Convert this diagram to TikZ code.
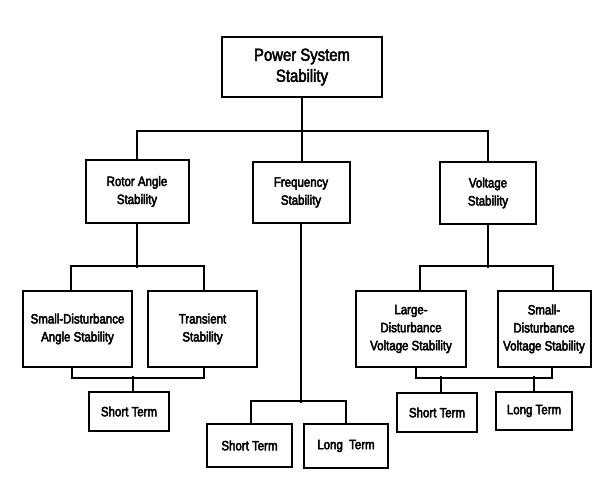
\documentclass[tikz,border=0pt]{standalone}
\usepackage{fontspec}
\setmainfont{Liberation Sans}[FakeStretch=0.85]
\usetikzlibrary{positioning}
\newcommand{\thicktext}{\special{pdf:literal direct 2 Tr 0.45 w}}

\begin{document}
\begin{tikzpicture}[
    x=1pt, y=-1pt,
    block/.style={
        rectangle,
        draw=black,
        fill=white,
        line width=2pt,
        align=center,
        inner sep=0pt,
        font=\fontsize{13.5}{18}\selectfont\thicktext
    },
    line/.style={draw=black, line width=1.8pt}
]
    \useasboundingbox (0,0) rectangle (592,479);

    \node [block, minimum width=160pt, minimum height=60pt, font=\fontsize{17.5}{21}\selectfont\thicktext] (pss) at (302,67) {Power System\\Stability};

    \node [block, minimum width=103pt, minimum height=63pt] (rotor) at (137,191.5) {Rotor Angle\\Stability};
    \node [block, minimum width=97pt, minimum height=61pt] (freq) at (301,192.5) {Frequency\\Stability};
    \node [block, minimum width=96pt, minimum height=62pt] (volt) at (488,193) {Voltage\\Stability};

    \node [block, minimum width=109pt, minimum height=76pt] (sda) at (77.5,329) {Small-Disturbance\\Angle Stability};
    \node [block, minimum width=109pt, minimum height=76pt] (trans) at (202.5,329) {Transient\\Stability};
    \node [block, minimum width=110pt, minimum height=76pt] (lvd) at (411,329) {Large-\\Disturbance\\Voltage Stability};
    \node [block, minimum width=93pt, minimum height=76pt] (svd) at (544,329) {Small-\\Disturbance\\Voltage Stability};

    \node [block, minimum width=80pt, minimum height=39pt] (stR) at (129,411.5) {Short Term};
    \node [block, minimum width=85pt, minimum height=43pt] (stF) at (249.5,445.5) {Short Term};
    \node [block, minimum width=84pt, minimum height=44pt] (ltF) at (346,446) {Long~~Term};
    \node [block, minimum width=80pt, minimum height=39pt] (stV) at (437,412.5) {Short Term};
    \node [block, minimum width=76pt, minimum height=38pt] (ltV) at (534,411) {Long Term};

    % top level
    \path [line] (pss.south) -- (pss.south |- freq.north);
    \path [line] (rotor.north) -- ++(0,-28) -| (volt.north);

    % rotor angle
    \path [line] (rotor.south) -- ++(0,44);
    \path [line] ([xshift=-6.5pt]sda.north) -- ++(0,-24) -| ([xshift=1.5pt]trans.north);
    \path [line] ([xshift=-5.5pt]sda.south) -- ++(0,10) -| ([xshift=1.5pt]trans.south);
    \path [line] ([xshift=4pt]stR.north) -- ++(0,-15);

    % frequency
    \path [line] (freq.south) -- ++(0,179);
    \path [line] ([xshift=1.5pt]stF.north) -- ++(0,-22) -| (ltF.north);

    % voltage
    \path [line] (volt.south) -- ++(0,43);
    \path [line] ([xshift=9pt]lvd.north) -- ++(0,-24) -| ([xshift=9pt]svd.north);
    \path [line] ([xshift=5pt]lvd.south) -- ++(0,10) -| ([xshift=8pt]svd.south);
    \path [line] ([xshift=4pt]stV.north) -- ++(0,-16);
    \path [line] (ltV.north) -- ++(0,-15);
\end{tikzpicture}
\end{document}
